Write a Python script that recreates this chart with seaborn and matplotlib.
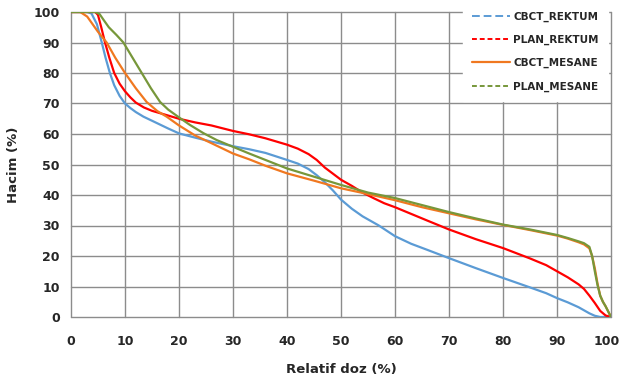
import numpy as np
import pandas as pd
import matplotlib
matplotlib.use("Agg")
import matplotlib.pyplot as plt
import matplotlib.transforms as mtransforms
from matplotlib.lines import Line2D
import seaborn as sns

# Dose-volume histogram data: relative dose (%) vs volume (%)
cbct_rektum_x = [0, 3, 3.8, 4.8, 5.7, 6.4, 7.2, 8, 9, 10, 11, 12, 13.4, 16, 18, 20, 23, 26, 30, 33, 36, 40, 42, 44, 45.5, 47, 48.5, 50, 52, 54, 57, 60, 63, 66, 70, 75, 80, 85, 88, 90, 92, 94, 95, 96, 97, 98, 100]
cbct_rektum_y = [100, 100, 99.5, 96, 90, 85, 80, 76, 72.5, 70, 68.5, 67.2, 65.7, 63.5, 61.8, 60.2, 58.8, 57.5, 56, 55, 53.8, 51.5, 50.3, 48.5, 46.5, 44.2, 41.5, 38.5, 35.5, 33, 30, 26.5, 24, 22, 19.3, 16, 12.8, 9.7, 7.8, 6.2, 4.8, 3.2, 2.2, 1.2, 0.4, 0, 0]

plan_rektum_x = [0, 4.5, 5, 5.6, 6.3, 7.1, 8, 9, 10, 11, 12, 13.5, 15, 17.7, 20, 23, 26, 30, 33, 36, 40, 42, 44, 45.5, 47, 48.5, 50, 52, 54, 56, 58, 60, 63, 66, 70, 75, 80, 85, 88, 90, 92, 94, 95, 96, 97, 98, 99, 100]
plan_rektum_y = [100, 100, 99, 95, 90, 85, 80, 76.5, 74, 72, 70.3, 68.7, 67.6, 66.2, 65, 63.8, 62.8, 61, 59.9, 58.6, 56.5, 55.2, 53.4, 51.5, 49, 47, 45, 43, 40.8, 39, 37.3, 36, 33.8, 31.6, 28.7, 25.5, 22.6, 19.2, 17, 15, 13, 10.7, 9.2, 7, 4.6, 2, 0.5, 0]

cbct_mesane_x = [0, 1.7, 3, 4, 5, 6.6, 8.2, 10, 12, 14, 16, 17.7, 20, 23, 26, 30, 33, 36, 40, 45, 50, 55, 60, 65, 70, 75, 80, 85, 90, 92, 94, 95, 96, 96.5, 97, 97.5, 98, 98.5, 99, 100]
cbct_mesane_y = [100, 100, 98.5, 96, 93.5, 90, 85, 80, 75, 70.5, 67.5, 65.7, 62.8, 59.5, 57, 53.6, 51.7, 49.6, 47.1, 44.7, 42.2, 40.3, 38.3, 36, 34, 32, 30.2, 28.5, 26.7, 25.7, 24.5, 23.8, 22.5, 20, 16, 11, 7, 5, 3.5, 0]

plan_mesane_x = [0, 4.5, 5.3, 6, 7, 8.4, 9.7, 11.4, 13.1, 14.8, 16.5, 18, 19.8, 22, 24.5, 27, 30, 33, 36, 40, 45, 50, 55, 60, 65, 70, 75, 80, 85, 90, 92, 94, 95, 96, 96.5, 97, 97.5, 98, 98.5, 99, 100]
plan_mesane_y = [100, 100, 99.3, 97.5, 95, 92.5, 90, 85, 80, 75, 70.5, 68, 65.7, 63, 60.3, 58, 55.8, 53.6, 51.5, 48.7, 46, 43.3, 40.8, 39, 36.7, 34.4, 32.3, 30.3, 28.7, 26.9, 25.9, 24.8, 24.2, 23, 20, 15, 10.5, 7, 5, 3.5, 0]

series_names = ["CBCT_REKTUM", "PLAN_REKTUM", "CBCT_MESANE", "PLAN_MESANE"]
series_x = [cbct_rektum_x, plan_rektum_x, cbct_mesane_x, plan_mesane_x]
series_y = [cbct_rektum_y, plan_rektum_y, cbct_mesane_y, plan_mesane_y]
colors = ["#5b9bd5", "#ff0000", "#f07820", "#77973a"]
legend_dashes = [(4, 2), (2.5, 1.5), None, (2.5, 1.5)]

xticks = [0, 10, 20, 30, 40, 50, 60, 70, 80, 90, 100]
yticks = [0, 10, 20, 30, 40, 50, 60, 70, 80, 90, 100]

frames = []
for name, xs, ys in zip(series_names, series_x, series_y):
    frames.append(pd.DataFrame({"doz": xs, "hacim": ys, "seri": name}))
df = pd.concat(frames, ignore_index=True)

sns.set_theme(style="white")
plt.rcParams["font.family"] = ["DejaVu Sans"]

fig = plt.figure(figsize=(6.22, 3.80), dpi=100)
ax = fig.add_axes([71 / 622, 63 / 380, 540 / 622, 305 / 380])

# Grid drawn behind the curves
for t in xticks:
    ax.axvline(t, color="#8c8c8c", lw=1.0, zorder=0.5, clip_on=False)
for t in yticks:
    ax.axhline(t, color="#8c8c8c", lw=1.0, zorder=0.5, clip_on=False)

sns.lineplot(data=df, x="doz", y="hacim", hue="seri", hue_order=series_names,
             palette=colors, sort=False, estimator=None, linewidth=1.6,
             legend=False, ax=ax, zorder=3)

ax.set_xlim(0, 100)
ax.set_ylim(0, 100)
ax.set_xticks(xticks)
ax.set_yticks(yticks)
for s in ax.spines.values():
    s.set_visible(False)
ax.tick_params(axis="both", length=0, labelsize=9)
ax.tick_params(axis="x", pad=13)
ax.tick_params(axis="y", pad=8)
for lbl in ax.get_xticklabels() + ax.get_yticklabels():
    lbl.set_fontweight("bold")
# keep the last x label inside the figure edge
last = ax.get_xticklabels()[-1]
last.set_transform(last.get_transform() +
                   mtransforms.ScaledTranslation(-4 / 100, 0, fig.dpi_scale_trans))

ax.set_xlabel("Relatif doz (%)", fontsize=9.5, fontweight="bold", labelpad=11)
ax.set_ylabel("Hacim (%)", fontsize=9.5, fontweight="bold", labelpad=10)

handles = []
for c, d in zip(colors, legend_dashes):
    if d is None:
        handles.append(Line2D([0], [0], color=c, lw=1.6))
    else:
        handles.append(Line2D([0], [0], color=c, lw=1.4, dashes=d))
leg = ax.legend(handles, series_names, loc="upper left",
                bbox_to_anchor=(463 / 622, 1 - 2 / 380), bbox_transform=fig.transFigure,
                frameon=True, fancybox=False, framealpha=1, edgecolor="white",
                facecolor="white", handlelength=3.6, handletextpad=0.3,
                labelspacing=1.25, borderpad=0.9, borderaxespad=0,
                prop={"weight": "bold", "size": 7.5})
leg.set_zorder(5)

fig.savefig("out.png", dpi=100)
